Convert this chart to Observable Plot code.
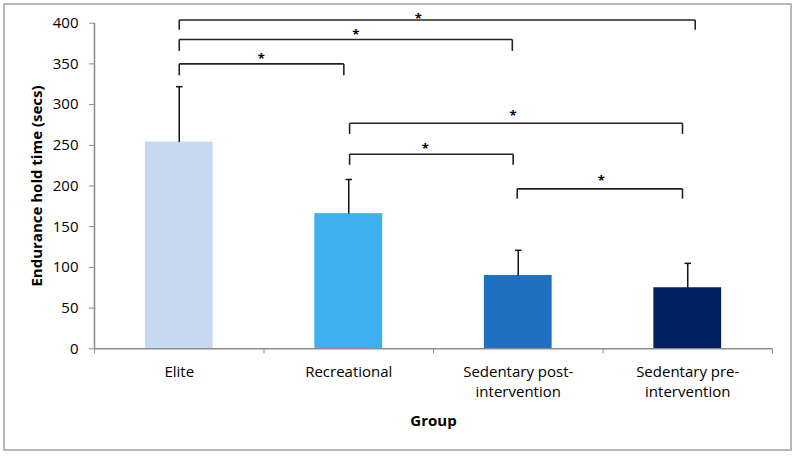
<!DOCTYPE html>
<html>
<head>
<meta charset="utf-8">
<script src="https://cdn.jsdelivr.net/npm/d3@7"></script>
<script src="https://cdn.jsdelivr.net/npm/@observablehq/plot@0.6"></script>
<style>
  html, body { margin: 0; padding: 0; background: #fff; }
  #wrap { position: relative; width: 798px; height: 457px; overflow: hidden; }
  #frame { position: absolute; left: 3px; top: 3px; width: 789px; height: 448px; box-sizing: border-box; border: 2px solid #b8b8b8; pointer-events: none; }
  #chart { position: absolute; left: 0; top: 0; }
</style>
</head>
<body>
<div id="wrap"><div id="chart"></div><div id="frame"></div></div>
<script>
// Categories and values
const groups = ["Elite", "Recreational", "Sedentary post-intervention", "Sedentary pre-intervention"];
const groupLabels = ["Elite", "Recreational", "Sedentary post-\nintervention", "Sedentary pre-\nintervention"];
const means = [254, 166, 90, 75];
const errorTops = [322, 208, 121, 105];
const barColors = ["#c6d9f1", "#3fb0ef", "#1f70c1", "#002060"];
const yTicks = [0, 50, 100, 150, 200, 250, 300, 350, 400];

// Significance brackets (group-index positions and levels in secs)
const bracketFrom  = [0, 0, 0, 1.005, 1.005, 1.994];
const bracketTo    = [3.044, 1.965, 0.971, 2.969, 1.97, 2.969];
const bracketLevel = [404, 380, 350, 277, 239, 196.5];
const bracketDrop  = [12, 14, 14, 13, 13, 12];
const bracketStarX = [1.41, 1.041, 0.484, 1.97, 1.451, 2.49];
const bracketStarY = [409, 389, 359, 289, 249, 209];
const bracketMark  = ["*", "*", "*", "*", "*", "*"];

const bars = groups.map((g, i) => ({i, group: g, label: groupLabels[i], mean: means[i], top: errorTops[i], color: barColors[i]}));
const brackets = bracketFrom.map((f, k) => ({x1: f, x2: bracketTo[k], y: bracketLevel[k], y0: bracketLevel[k] - bracketDrop[k], sx: bracketStarX[k], sy: bracketStarY[k], mark: bracketMark[k]}));
const bracketSegs = brackets.flatMap(b => [
  {x1: b.x1, x2: b.x2, y1: b.y, y2: b.y},
  {x1: b.x1, x2: b.x1, y1: b.y0, y2: b.y},
  {x1: b.x2, x2: b.x2, y1: b.y0, y2: b.y}
]);

const font = "'Open Sans', Lato, sans-serif";
const half = 0.2, cap = 0.019;

const chart = Plot.plot({
  width: 798,
  height: 457,
  marginLeft: 94,
  marginRight: 26,
  marginTop: 22.7,
  marginBottom: 108.7,
  style: {fontFamily: font, fontSize: "15px", color: "#000", background: "transparent"},
  x: {type: "linear", domain: [-0.5, 3.5], axis: null},
  y: {domain: [0, 400], axis: null},
  marks: [
    Plot.rectY(bars, {x1: d => d.i - half, x2: d => d.i + half, y1: 0, y2: "mean", fill: "color"}),
    // error bars
    Plot.link(bars, {x1: "i", x2: "i", y1: "mean", y2: "top", stroke: "#111", strokeWidth: 1.5}),
    Plot.link(bars, {x1: d => d.i - cap, x2: d => d.i + cap, y1: "top", y2: "top", stroke: "#111", strokeWidth: 1.5}),
    // axes lines
    Plot.ruleY([0], {stroke: "#8c8c8c", strokeWidth: 1.5}),
    Plot.ruleX([-0.5], {stroke: "#8c8c8c", strokeWidth: 1.5}),
    Plot.axisY({ticks: yTicks, tickSize: 5, tickPadding: 11, stroke: "#8c8c8c", fontSize: 15, label: null, tickFormat: d3.format("d")}),
    Plot.axisX({ticks: [-0.5, 0.5, 1.5, 2.5, 3.5], tickSize: 5, tickFormat: () => "", stroke: "#8c8c8c", label: null}),
    // category labels
    Plot.text(bars, {x: "i", y: 0, text: "label", lineAnchor: "top", dy: 14, lineHeight: 1.33, fontSize: 15, fill: "#000"}),
    // significance brackets
    Plot.link(bracketSegs, {x1: "x1", x2: "x2", y1: "y1", y2: "y2", stroke: "#222", strokeWidth: 1.6}),
    Plot.text(brackets, {x: "sx", y: "sy", text: "mark", dy: 2.5, fontSize: 13, fontWeight: "bold", fill: "#000"}),
    // axis titles
    Plot.text(["Endurance hold time (secs)"], {frameAnchor: "left", textAnchor: "middle", dx: -57, rotate: -90, fontWeight: "bold", fontSize: 15, text: d => d}),
    Plot.text(["Group"], {frameAnchor: "bottom", dy: 77, fontWeight: "bold", fontSize: 15, text: d => d})
  ]
});
document.getElementById("chart").appendChild(chart);
</script>
</body>
</html>
